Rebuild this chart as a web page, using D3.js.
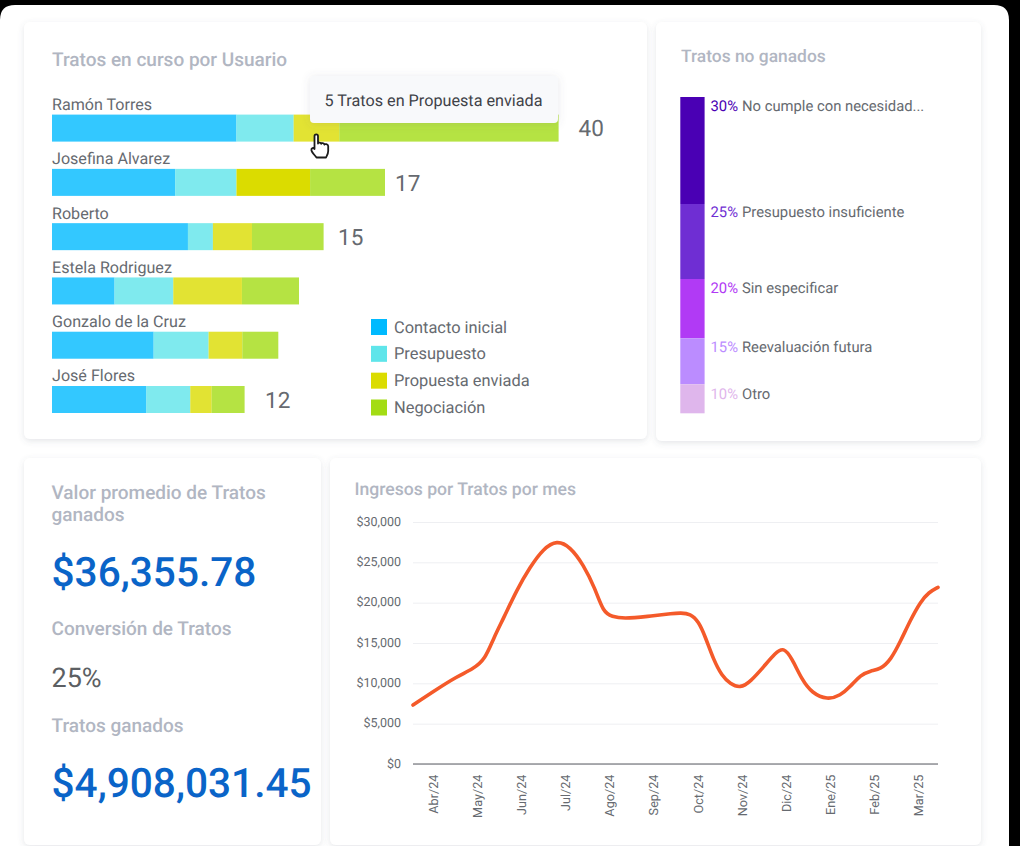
<!DOCTYPE html>
<html lang="es">
<head>
<meta charset="utf-8">
<title>Tablero de Tratos</title>
<script src="https://cdn.jsdelivr.net/npm/d3@7"></script>
<style>
  html, body { margin: 0; padding: 0; background: #000; }
  svg { display: block; }
  text { font-family: Roboto, sans-serif; text-rendering: geometricPrecision; }
</style>
</head>
<body>
<svg id="board" width="1020" height="846"></svg>
<script>
// Deals in progress per user
const users = ["Ramón Torres", "Josefina Alvarez", "Roberto", "Estela Rodriguez", "Gonzalo de la Cruz", "José Flores"];
const userTotals = [40, 17, 15, 14, 13, 12];
const shownTotals = [true, true, true, false, false, true];
const stages = ["Contacto inicial", "Presupuesto", "Propuesta enviada", "Negociación"];
const stageColors = ["#00baff", "#5fe5ea", "#dbdc00", "#a3dc14"];
const contactoShare = [36.4, 37.0, 50.1, 25.3, 44.9, 49.0];
const presupuestoShare = [11.3, 18.4, 9.2, 23.8, 24.3, 22.8];
const propuestaShare = [9.0, 22.1, 14.4, 27.8, 14.9, 11.1];
const negociacionShare = [43.3, 22.5, 26.4, 23.1, 15.9, 17.1];
const tooltipText = "5 Tratos en Propuesta enviada";

// Reasons for lost deals
const lostReasons = ["No cumple con necesidad...", "Presupuesto insuficiente", "Sin especificar", "Reevaluación futura", "Otro"];
const lostPercent = [30, 25, 20, 15, 10];
const lostColors = ["#4a00b4", "#6f2ed3", "#b13af5", "#bb8cff", "#dfb6ec"];

// Summary figures
const summaryTitles = ["Valor promedio de Tratos", "ganados", "Conversión de Tratos", "Tratos ganados"];
const averageValue = "$36,355.78";
const conversionRate = "25%";
const wonValue = "$4,908,031.45";

// Monthly revenue curve
const months = ["Abr/24", "May/24", "Jun/24", "Jul/24", "Ago/24", "Sep/24", "Oct/24", "Nov/24", "Dic/24", "Ene/25", "Feb/25", "Mar/25"];
const revenueTicks = [0, 5000, 10000, 15000, 20000, 25000, 30000];
const revenuePosition = [0, .465, 1, 1.38, 1.65, 1.84, 2.07, 2.37, 2.68, 2.98, 3.29, 3.59, 3.9, 4.16, 4.35, 4.55, 4.81, 5.35, 5.96, 6.11, 6.34, 6.53, 6.68, 6.87, 7.06, 7.25, 7.48, 7.71, 8.02, 8.28, 8.47, 8.66, 8.89, 9.12, 9.47, 9.77, 10, 10.23, 10.46, 10.69, 10.92, 11.14, 11.37, 11.6, 11.79, 12];
const revenueValue = [7300, 8990, 10840, 11790, 13000, 15590, 18070, 21570, 24460, 26700, 27750, 26950, 24670, 21780, 18800, 18270, 18020, 18270, 18690, 18720, 18650, 17650, 15790, 12910, 10930, 9940, 9400, 10190, 12080, 13750, 14500, 13120, 10430, 8790, 7950, 8490, 9600, 11050, 11550, 11760, 12910, 15170, 17860, 20120, 21290, 21900];

const svg = d3.select("#board");
const titleColor = "#b1b6c2";
const textColor = "#666a70";

const defs = svg.append("defs");
const shadow = defs.append("filter").attr("id", "cardShadow")
  .attr("x", "-5%").attr("y", "-5%").attr("width", "110%").attr("height", "110%");
shadow.append("feDropShadow").attr("dx", 0).attr("dy", 2).attr("stdDeviation", 3)
  .attr("flood-color", "#5a6070").attr("flood-opacity", 0.16);
const tipShadow = defs.append("filter").attr("id", "tipShadow")
  .attr("x", "-10%").attr("y", "-30%").attr("width", "120%").attr("height", "160%");
tipShadow.append("feDropShadow").attr("dx", 0).attr("dy", 1).attr("stdDeviation", 4)
  .attr("flood-color", "#5a6070").attr("flood-opacity", 0.14);

// Backdrop panel, open toward the bottom left
svg.append("path").attr("fill", "#fff")
  .attr("d", "M0,846V20Q0,5 15,5H994Q1009,5 1009,20V846Z");

// Cards
const cards = [[24, 22, 623, 417], [656, 22, 325, 419], [24, 458, 297, 387], [330, 458, 651, 387]];
svg.append("g").selectAll("rect").data(cards).join("rect")
  .attr("x", d => d[0]).attr("y", d => d[1]).attr("width", d => d[2]).attr("height", d => d[3])
  .attr("rx", 6).attr("fill", "#fff").attr("filter", "url(#cardShadow)");

const title = (x, y, s, size = 19) => svg.append("text").attr("x", x).attr("y", y).text(s)
  .attr("fill", titleColor).attr("font-size", size).attr("font-weight", 500);

// --- Stacked bars per user ---
title(52, 65.5, "Tratos en curso por Usuario");

const barLength = d3.scaleLinear()
  .domain([0, 12, 13, 14, 15, 17, 40])
  .range([0, 192.6, 226.3, 247, 271.6, 333, 506.6]);
const rowTop = d3.scaleLinear().domain([0, 5]).range([114.6, 386]);
const barHeight = 27;

const shareRows = users.map((u, i) => ({
  user: u,
  [stages[0]]: contactoShare[i],
  [stages[1]]: presupuestoShare[i],
  [stages[2]]: propuestaShare[i],
  [stages[3]]: negociacionShare[i]
}));
const stacked = d3.stack().keys(stages).offset(d3.stackOffsetExpand)(shareRows);

const barsLayer = svg.append("g");
stacked.forEach((layer, k) => {
  barsLayer.append("g").selectAll("rect").data(layer).join("rect")
    .attr("x", (d, i) => 52 + barLength(userTotals[i]) * d[0])
    .attr("y", (d, i) => rowTop(i))
    .attr("width", (d, i) => barLength(userTotals[i]) * (d[1] - d[0]))
    .attr("height", barHeight)
    .attr("fill", stageColors[k])
    // Josefina's proposal segment keeps the full stage colour; the rest are softened
    .attr("fill-opacity", (d, i) => (i === 1 && k === 2) ? 1 : 0.8);
});

svg.append("g").selectAll("text").data(users).join("text")
  .attr("x", 52).attr("y", (d, i) => rowTop(i) - 4.6)
  .attr("fill", textColor).attr("font-size", 16.1).text(d => d);

const totalLabelGap = [20, 10, 14.5, 0, 0, 20.5];
const totalsLayer = svg.append("g");
userTotals.forEach((t, i) => {
  if (!shownTotals[i]) return;
  totalsLayer.append("text")
    .attr("x", 52 + barLength(t) + totalLabelGap[i])
    .attr("y", rowTop(i) + 20.5 + (i === 0 ? 0.5 : 1.5))
    .attr("fill", textColor).attr("font-size", 22.5).text(t);
});

// Stage legend
const legendY = d3.scalePoint().domain(stages).range([327, 407.5]);
const legend = svg.append("g").selectAll("g").data(stages).join("g")
  .attr("transform", d => `translate(371,${legendY(d)})`);
legend.append("rect").attr("y", -8).attr("width", 16).attr("height", 16)
  .attr("fill", (d, i) => stageColors[i]);
legend.append("text").attr("x", 23).attr("y", 5.5).attr("fill", textColor).attr("font-size", 16.4).text(d => d);

// Tooltip above the first bar
svg.append("rect").attr("x", 310).attr("y", 76).attr("width", 248).attr("height", 47).attr("rx", 4)
  .attr("fill", "#f8f9fb").attr("filter", "url(#tipShadow)");
svg.append("text").attr("x", 324.5).attr("y", 106).attr("fill", "#3f4248").attr("font-size", 16.2).text(tooltipText);

// Pointer hand over the hovered segment
svg.append("path")
  .attr("transform", "translate(311,134)")
  .attr("fill", "#fff").attr("stroke", "#1c1c1c").attr("stroke-width", 1.8).attr("stroke-linejoin", "round")
  .attr("d", "M3.5,13V2.2C3.5,-0.2 7,-0.2 7,2.2V9.5C7,8.2 10,8.2 10.2,9.8C10.4,8.6 13.2,8.8 13.4,10.6C13.8,9.6 17,10 17.2,12V17C17.2,20 16,21.5 15,23.5H5.5C4.6,22 0.6,18.5 0.4,16.2C0.2,14 2.4,13.2 3.5,15Z");

// --- Lost-deal reasons, a single stacked column ---
title(681, 62, "Tratos no ganados", 17.4);
const cumulative = d3.cumsum(lostPercent);
const lostY = d3.scaleLinear().domain([0, 30, 55, 75, 90, 100]).range([97, 204, 279, 338.3, 384.3, 413.3]);
const lostLabelDrop = [14, 13, 13.5, 13.5, 14.5];
const lost = svg.append("g").selectAll("g").data(lostReasons).join("g");
lost.append("rect").attr("x", 680.3).attr("width", 24.3)
  .attr("y", (d, i) => lostY(cumulative[i] - lostPercent[i]))
  .attr("height", (d, i) => lostY(cumulative[i]) - lostY(cumulative[i] - lostPercent[i]))
  .attr("fill", (d, i) => lostColors[i]);
const lostText = lost.append("text").attr("x", 710.5)
  .attr("y", (d, i) => lostY(cumulative[i] - lostPercent[i]) + lostLabelDrop[i])
  .attr("font-size", 14.8);
lostText.append("tspan").attr("fill", (d, i) => lostColors[i]).text((d, i) => lostPercent[i] + "%");
lostText.append("tspan").attr("fill", textColor).attr("dx", 4).text(d => d);

// --- Summary figures ---
title(51.5, 499, summaryTitles[0]);
title(51.5, 521, summaryTitles[1]);
svg.append("text").attr("x", 51.5).attr("y", 586).attr("fill", "#0a64c8").attr("font-size", 40.6).attr("font-weight", 500).text(averageValue);
title(51.5, 634.5, summaryTitles[2]);
svg.append("text").attr("x", 51.5).attr("y", 687).attr("fill", "#5c5f63").attr("font-size", 27).text(conversionRate);
title(51.5, 732, summaryTitles[3]);
svg.append("text").attr("x", 51.5).attr("y", 797).attr("fill", "#0a64c8").attr("font-size", 40.6).attr("font-weight", 500).text(wonValue);

// --- Revenue per month ---
title(354.5, 495, "Ingresos por Tratos por mes", 17.6);

const plotLeft = 413, plotRight = 938;
const y = d3.scaleLinear().domain([0, 30000]).range([764, 522]);
const x = d3.scaleLinear().domain([0, 12]).range([plotLeft, plotRight]);
const monthBand = d3.scaleBand().domain(months).range([412.5, 941.5]);

const yAxis = svg.append("g").attr("transform", `translate(${plotLeft},0)`)
  .call(d3.axisLeft(y).tickValues(revenueTicks).tickSize(-(plotRight - plotLeft)).tickPadding(12).tickFormat(d3.format("$,")));
yAxis.select(".domain").remove();
yAxis.selectAll("line").attr("stroke", "#eeeff2").attr("stroke-width", 1);
yAxis.selectAll("text").attr("fill", textColor).attr("font-size", 12.5).attr("font-family", "Roboto, sans-serif")
  .attr("transform", "translate(0,-0.8)");

const xAxis = svg.append("g").attr("transform", "translate(0,764)")
  .call(d3.axisBottom(monthBand).tickSize(0).tickPadding(0));
xAxis.select(".domain").remove();
xAxis.append("line").attr("x1", plotLeft).attr("x2", plotRight)
  .attr("stroke", "#5a5d63").attr("stroke-width", 1.2);
xAxis.selectAll("text")
  .attr("fill", textColor).attr("font-size", 12.7).attr("font-family", "Roboto, sans-serif")
  .attr("text-anchor", "end").attr("dy", 0)
  .attr("transform", "translate(3.5,10.5) rotate(-90)");

svg.append("path")
  .attr("fill", "none").attr("stroke", "#f45a2a").attr("stroke-width", 3.6).attr("stroke-linecap", "round")
  .attr("d", d3.line().x((d, i) => x(revenuePosition[i])).y(d => y(d)).curve(d3.curveBasis)(revenueValue));
</script>
</body>
</html>
